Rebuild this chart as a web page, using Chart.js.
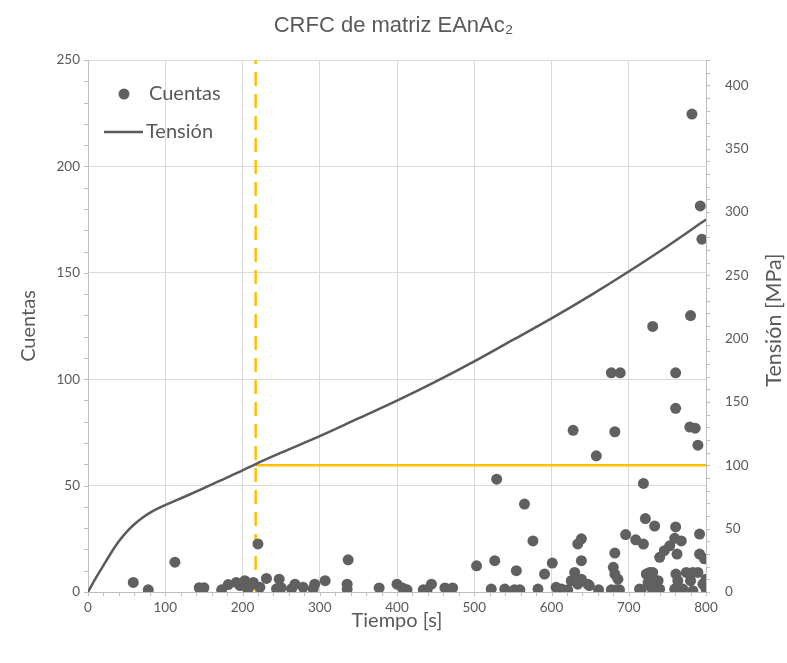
<!DOCTYPE html>
<html><head><meta charset="utf-8">
<script src="https://cdn.jsdelivr.net/npm/chart.js@4/dist/chart.umd.min.js"></script>
<style>html,body{margin:0;padding:0;background:#fff;}#wrap{width:787px;height:663px;}</style>
</head><body><div id="wrap"><canvas id="c" width="787" height="663"></canvas></div>
<script>
const chartTitle = 'CRFC de matriz EAnAc₂';
const xAxisTitle = 'Tiempo [s]';
const yAxisTitle = 'Cuentas';
const y2AxisTitle = 'Tensión [MPa]';
const seriesNames = ['Cuentas', 'Tensión'];

const countTimes = [58.6,78,112.5,144,150,173,181.5,192,197,203,207,210,214,220,222.5,231,244,247.5,250,263.5,268,278.5,291.5,293.5,307,
  336.8,335.5,335.5,376.9,400,407,413,434,439,444.6,462,472,
  503,522,526.5,529,539.5,552,554.5,559,565,576,582.5,591,601,606,613,621,625.6,628,630,634,634,638.7,638.7,638.7,647,649,658,661,
  677.5,677.5,680,682,682,682,684,686,688,689,696,709,714,716,719,719,721.5,722.7,725,727,729,731,731,731,733.5,733.5,738,737.8,740,740,
  746,753,759.5,759.5,760.7,760.7,760.7,761,762.5,763.5,768,770,774.5,779,780,780,781.8,783,783,786,789.5,789.5,791.7,791.7,792.6,794.7,796,798,800,800,800];
const countValues = [4.5,1,14,2,2,1,3.5,4.5,3,5.3,1.4,3,4.5,22.6,2.2,6.4,1.5,6,2,1.5,3.7,2.2,1.5,3.7,5.3,
  15.1,3.7,1.4,1.9,3.7,1.9,1,1,1,3.7,1.9,1.9,
  12.3,1.4,14.7,53,1.4,1,10,1,41.3,24,1.4,8.4,13.6,2.2,1.4,1,5.3,76,9.2,22.6,3.7,25,14.7,6,3.7,3,64,1,
  103,1,11.6,18.3,75.3,8.4,1,6,1,103,27,24.5,1.4,1,51,22.5,34.5,8.4,4.5,9.2,2.2,9.2,124.8,1.4,31,5.3,5.3,1.4,16.3,1.4,
  19.4,21.7,25.2,1.4,30.6,103,86.3,8.4,17.8,5.3,24,1.4,9.2,77.5,129.9,5.3,224.6,9.2,0.6,77,69,9.2,27.2,17.8,181.4,165.8,3.7,15.6,6,1.4,5.3];

const stressTimes = [0,10,20,30,40,50,60,70,80,90,100,125,150,175,200,217,250,300,350,400,450,500,550,600,650,700,750,800];
const stressValues = [0,11,21,31,40,47.5,53.5,58.5,62.5,65.8,68.6,75.2,82,89,96,101,110,123,137,151,166,182,199,216,234,253,273,294];

const thresholdTime = 217;
const thresholdStress = 100;
const xTicks = [0,100,200,300,400,500,600,700,800];
const yTicks = [0,50,100,150,200,250];
const y2Ticks = [0,50,100,150,200,250,300,350,400];

const GRAY = '#595959';
const tickFont = {family: 'Lato', size: 13.5};
const titleFont = {family: 'Lato', size: 20};

const minorTicks = {
  id: 'minorTicks',
  afterDraw(chart) {
    const ctx = chart.ctx, a = chart.chartArea;
    const sx = chart.scales.x, sy = chart.scales.y, sy2 = chart.scales.y2;
    ctx.save();
    ctx.strokeStyle = '#bfbfbf'; ctx.lineWidth = 1;
    ctx.beginPath();
    for (let v = 0; v <= 800; v += 20) { const p = Math.round(sx.getPixelForValue(v)) + 0.5; ctx.moveTo(p, a.bottom); ctx.lineTo(p, a.bottom + 4); }
    for (let v = 0; v <= 250; v += 10) { const p = Math.round(sy.getPixelForValue(v)) + 0.5; ctx.moveTo(a.left - 4, p); ctx.lineTo(a.left, p); }
    for (let v = 0; v <= 420; v += 10) { const p = Math.round(sy2.getPixelForValue(v)) + 0.5; ctx.moveTo(a.right, p); ctx.lineTo(a.right + 4, p); }
    ctx.stroke();
    // right axis title (reads bottom to top)
    ctx.fillStyle = GRAY;
    ctx.font = '21.5px Lato';
    ctx.textAlign = 'center'; ctx.textBaseline = 'middle';
    ctx.translate(chart.width - 13, (a.top + a.bottom) / 2 - 6);
    ctx.rotate(-Math.PI / 2);
    ctx.fillText(y2AxisTitle, 0, 0);
    ctx.restore();
    // legend
    ctx.save();
    ctx.font = '20px Lato'; ctx.fillStyle = GRAY; ctx.textBaseline = 'middle'; ctx.textAlign = 'left';
    const lx = a.left, ly = a.top;
    ctx.beginPath(); ctx.arc(lx + 36, ly + 34, 5.5, 0, Math.PI * 2); ctx.fillStyle = '#606060'; ctx.fill();
    ctx.fillStyle = GRAY; ctx.fillText(seriesNames[0], lx + 61, ly + 34);
    ctx.beginPath(); ctx.moveTo(lx + 16, ly + 72); ctx.lineTo(lx + 55, ly + 72); ctx.strokeStyle = '#5a5a5a'; ctx.lineWidth = 2.5; ctx.stroke();
    ctx.fillText(seriesNames[1], lx + 58, ly + 72);
    ctx.restore();
  }
};

new Chart(document.getElementById('c'), {
  data: {
    datasets: [
      { type: 'scatter', label: seriesNames[0], order: 0, xAxisID: 'x', yAxisID: 'y',
        data: countTimes.map((t, i) => ({x: t, y: countValues[i]})),
        backgroundColor: '#606060', borderColor: '#606060', pointRadius: 5.5, pointBorderWidth: 0 },
      { type: 'line', label: seriesNames[1], order: 1, xAxisID: 'x', yAxisID: 'y2',
        data: stressTimes.map((t, i) => ({x: t, y: stressValues[i]})),
        borderColor: '#5a5a5a', borderWidth: 2.5, pointRadius: 0, fill: false, cubicInterpolationMode: 'monotone' },
      { type: 'line', label: 'umbral', order: 2, xAxisID: 'x', yAxisID: 'y2',
        data: [{x: thresholdTime, y: thresholdStress}, {x: 800, y: thresholdStress}],
        borderColor: '#FFC000', borderWidth: 2.5, pointRadius: 0, fill: false },
      { type: 'line', label: 'tiempo', order: 3, xAxisID: 'x', yAxisID: 'y',
        data: [{x: thresholdTime, y: 0}, {x: thresholdTime, y: 250}],
        borderColor: '#FFC000', borderWidth: 2.5, borderDash: [14, 8], pointRadius: 0, fill: false }
    ]
  },
  options: {
    responsive: false, animation: false, devicePixelRatio: 1,
    layout: {padding: 0},
    plugins: {
      legend: {display: false}, tooltip: {enabled: false},
      title: {display: true, text: chartTitle, color: GRAY, font: {family: 'Liberation Sans', size: 22, weight: 'normal'}, padding: {top: 13, bottom: 20.6}}
    },
    scales: {
      x: { type: 'linear', position: 'bottom', min: 0, max: 800,
        afterBuildTicks: s => { s.ticks = xTicks.map(v => ({value: v})); },
        ticks: {color: GRAY, font: tickFont, padding: 8, maxRotation: 0},
        grid: {color: '#d9d9d9', drawTicks: false}, border: {color: '#bfbfbf'},
        title: {display: true, text: xAxisTitle, color: GRAY, font: titleFont, padding: {top: 0, bottom: 30}},
        afterFit: s => { s.height = 71; } },
      y: { type: 'linear', position: 'left', min: 0, max: 250,
        afterBuildTicks: s => { s.ticks = yTicks.map(v => ({value: v})); },
        ticks: {color: GRAY, font: tickFont, padding: 8},
        grid: {color: '#d9d9d9', drawTicks: false}, border: {color: '#bfbfbf'},
        title: {display: true, text: yAxisTitle, color: GRAY, font: titleFont, padding: {top: 17, bottom: 0}},
        afterFit: s => { s.width = 88; } },
      y2: { type: 'linear', position: 'right', min: 0, max: 420,
        afterBuildTicks: s => { s.ticks = y2Ticks.map(v => ({value: v})); },
        ticks: {color: GRAY, font: tickFont, padding: 19},
        grid: {drawOnChartArea: false, drawTicks: false}, border: {color: '#bfbfbf'},
        afterFit: s => { s.width = 81; } }
    }
  },
  plugins: [minorTicks]
});
</script></body></html>
